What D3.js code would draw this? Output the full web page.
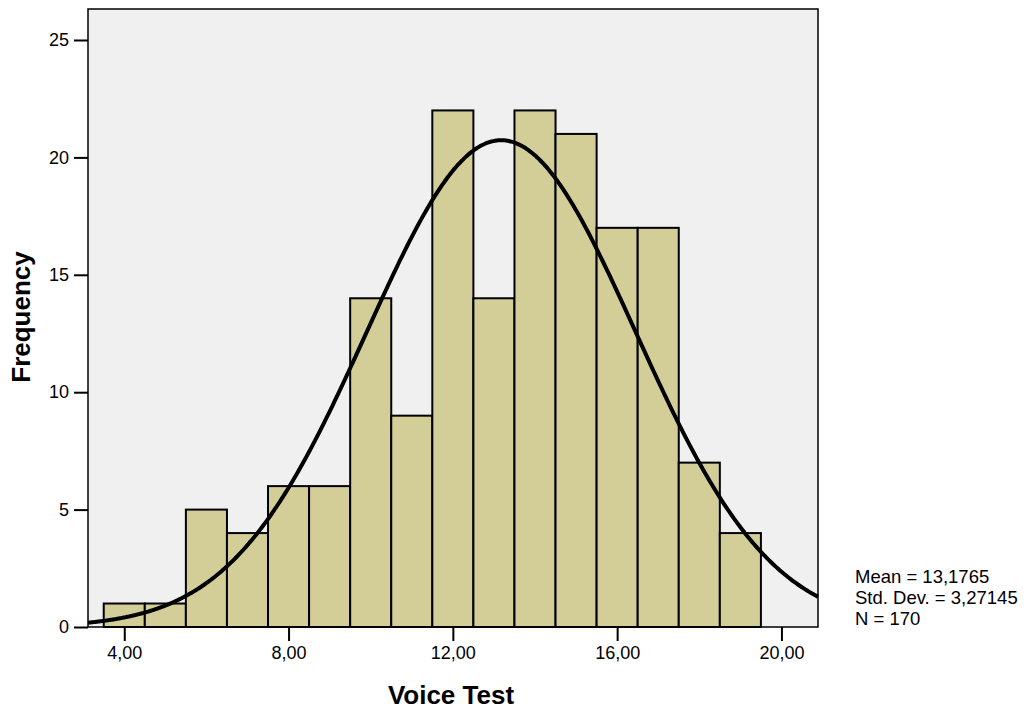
<!DOCTYPE html>
<html><head><meta charset="utf-8">
<script src="https://cdn.jsdelivr.net/npm/d3@7"></script>
<style>body{margin:0;background:#fff}svg{display:block}text{font-family:"Liberation Sans",Arial,sans-serif}</style>
</head><body><svg id="c" width="1030" height="713"></svg>
<script>
const binStarts = [3.5,4.5,5.5,6.5,7.5,8.5,9.5,10.5,11.5,12.5,13.5,14.5,15.5,16.5,17.5,18.5];
const binWidth = 1;
const counts = [1,1,5,4,6,6,14,9,22,14,22,21,17,17,7,4];
const xTicks = [4,8,12,16,20];
const xTickLabels = ["4,00","8,00","12,00","16,00","20,00"];
const yTicks = [0,5,10,15,20,25];
const stats = {mean:13.1765, sd:3.27145, n:170};
const statLines = ["Mean = 13,1765","Std. Dev. = 3,27145","N = 170"];

const svg = d3.select("#c");
const L=88,R=818,T=9,B=627;
const x = d3.scaleLinear().domain([3.117,20.89]).range([L,R]);
const y = d3.scaleLinear().domain([0,26.32]).range([B,T]);

svg.append("rect").attr("x",L).attr("y",T).attr("width",R-L).attr("height",B-T).attr("fill","#f0f0f0");

svg.selectAll("rect.bar").data(counts).enter().append("rect").attr("class","bar")
  .attr("x",(d,i)=>x(binStarts[i])).attr("width",(d,i)=>x(binStarts[i]+binWidth)-x(binStarts[i]))
  .attr("y",d=>y(d)).attr("height",d=>y(0)-y(d))
  .attr("fill","#d3ce98").attr("stroke","#000").attr("stroke-width",2);

const pts = d3.range(0,401).map(i=>{
  const v = 3.117 + (20.89-3.117)*i/400;
  const z = (v-stats.mean)/stats.sd;
  return [v, stats.n*binWidth*Math.exp(-0.5*z*z)/(stats.sd*Math.sqrt(2*Math.PI))];
});
svg.append("path").datum(pts).attr("fill","none").attr("stroke","#000").attr("stroke-width",4)
  .attr("d",d3.line().x(d=>x(d[0])).y(d=>y(d[1])).curve(d3.curveBasis));

svg.append("rect").attr("x",L).attr("y",T).attr("width",R-L).attr("height",B-T).attr("fill","none").attr("stroke","#000").attr("stroke-width",1.5);

const xa = svg.append("g").attr("transform",`translate(0,${B})`)
  .call(d3.axisBottom(x).tickValues(xTicks).tickFormat((d,i)=>xTickLabels[i]).tickSize(14).tickPadding(5));
const ya = svg.append("g").attr("transform",`translate(${L},0)`)
  .call(d3.axisLeft(y).tickValues(yTicks).tickSize(14).tickPadding(5));
[xa,ya].forEach(a=>{
  a.select(".domain").remove();
  a.selectAll(".tick line").attr("stroke","#000").attr("stroke-width",2);
  a.selectAll(".tick text").attr("fill","#000").style("font-size","18px");
});

svg.append("text").attr("x",451).attr("y",704).attr("text-anchor","middle")
  .style("font-size","26px").style("font-weight","bold").text("Voice Test");
svg.append("text").attr("transform","translate(30,317) rotate(-90)").attr("text-anchor","middle")
  .style("font-size","26px").style("font-weight","bold").text("Frequency");

svg.selectAll("text.stat").data(statLines).enter().append("text").attr("class","stat")
  .attr("x",855).attr("y",(d,i)=>583+i*21).style("font-size","18.5px").text(d=>d);
</script></body></html>
